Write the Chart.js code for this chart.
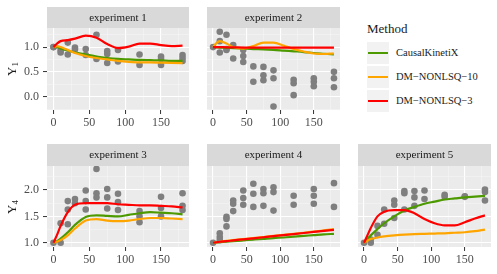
<!DOCTYPE html>
<html>
<head>
<meta charset="utf-8">
<script src="https://cdn.jsdelivr.net/npm/chart.js@4/dist/chart.umd.min.js"></script>
<style>
    body { margin: 0; background: #fff; width: 497px; height: 274px; position: relative; overflow: hidden; font-family: "Liberation Serif", serif; }
    canvas { position: absolute; }
    .ytitle { position: absolute; width: 24px; height: 20px; line-height: 20px; text-align: center; font-size: 13px; color: #1a1a1a; transform: rotate(-90deg); }
    .ytitle sub { font-size: 9px; vertical-align: -2px; }
    #legendTitle { position: absolute; left: 367px; top: 21px; font-size: 13px; color: #1a1a1a; }
    .legend-key { position: absolute; left: 367px; width: 22px; height: 22px; background: #f2f2f2; }
    .legend-line { position: absolute; left: 1px; top: 10px; width: 20px; height: 2.2px; }
    .legend-label { position: absolute; left: 396px; font-size: 10.5px; line-height: 14px; color: #1a1a1a; white-space: nowrap; }
</style>
</head>
<body>
<canvas id="c1"></canvas>
<canvas id="c2"></canvas>
<canvas id="c3"></canvas>
<canvas id="c4"></canvas>
<canvas id="c5"></canvas>
<div class="ytitle" style="left:0px; top:59px;">Y<sub>1</sub></div>
<div class="ytitle" style="left:0px; top:197px;">Y<sub>4</sub></div>
<div id="legendTitle">Method</div>
<div id="legend"></div>
<script>
// measurement times and fitted-curve times
const obsTimes = [0, 10, 20, 30, 45, 60, 75, 90, 120, 150, 180];
const curveTimes = [0, 5, 10, 20, 30, 45, 60, 75, 90, 105, 120, 135, 150, 165, 180];

const methodNames = ['CausalKinetiX', 'DM\u2212NONLSQ\u221210', 'DM\u2212NONLSQ\u22123'];
const methodColors = ['#4c9900', '#ffa500', '#ff0000'];

const xTickLabels = [0, 50, 100, 150];
const xMinorTicks = [25, 75, 125, 175];
const y1TickLabels = [0.0, 0.5, 1.0];
const y1MinorTicks = [-0.25, 0.25, 0.75, 1.25];
const y4TickLabels = [1.0, 1.5, 2.0];
const y4MinorTicks = [1.25, 1.75, 2.25];

// observed replicates, one list per time point
const exp1Obs = [[1.0, 1.0], [0.94, 0.89], [1.09, 0.85], [0.99, 0.95], [0.96, 0.84], [1.25, 0.76], [0.92, 0.86, 0.68], [0.94, 0.71], [0.85, 0.64], [0.81, 0.76, 0.64], [0.84, 0.78, 0.72]];
const exp2Obs = [[1.0], [1.31, 1.12, 0.89], [1.25, 0.96, 0.94], [1.04, 0.77], [0.94, 0.82, 0.70], [0.61, 0.30], [0.60, 0.43, 0.33], [0.53, 0.37, -0.20], [0.34, 0.27, 0.03], [0.37, 0.30, 0.21], [0.50, 0.37, 0.19]];
const exp3Obs = [[1.0], [1.37, 1.0], [1.79, 1.63, 1.35], [1.83, 1.75], [1.99, 1.79, 1.63], [2.40, 1.94, 1.86], [2.02, 1.86, 1.65], [1.93, 1.77, 1.62], [1.60, 1.50, 1.39], [1.87, 1.66, 1.50], [1.94, 1.70, 1.62]];
const exp4Obs = [[1.0], [1.18, 1.11, 1.05], [1.49, 1.45, 1.31], [1.80, 1.74, 1.60], [1.99, 1.85, 1.72], [2.12, 1.93, 1.68], [2.02, 1.94, 1.70], [2.05, 1.96, 1.61], [1.89, 1.72], [2.02, 1.89, 1.74], [2.13, 1.68]];
const exp5Obs = [[1.0], [1.06, 1.0], [1.32, 1.15], [1.63, 1.36], [1.80, 1.72, 1.47], [1.98, 1.94, 1.63], [1.98, 1.86, 1.70], [1.99, 1.83], [1.91, 1.87], [1.88, 1.87], [2.01, 1.96, 1.80]];

// fitted curves (values at curveTimes)
const exp1Causal = [1.00, 1.00, 0.97, 0.93, 0.89, 0.85, 0.81, 0.78, 0.76, 0.75, 0.74, 0.735, 0.73, 0.72, 0.72];
const exp1Dm10 = [1.00, 1.02, 1.00, 0.94, 0.88, 0.82, 0.78, 0.75, 0.72, 0.70, 0.69, 0.69, 0.685, 0.68, 0.675];
const exp1Dm3 = [1.00, 1.07, 1.12, 1.14, 1.17, 1.23, 1.19, 1.06, 0.98, 1.01, 1.07, 1.07, 1.04, 1.02, 1.03];

const exp2Causal = [1.00, 0.995, 0.99, 0.985, 0.98, 0.97, 0.96, 0.955, 0.945, 0.93, 0.915, 0.90, 0.88, 0.865, 0.85];
const exp2Dm10 = [1.00, 1.08, 1.12, 1.07, 1.00, 0.97, 1.02, 1.09, 1.09, 1.03, 0.96, 0.91, 0.87, 0.86, 0.87];
const exp2Dm3 = [1.00, 1.00, 1.00, 0.995, 0.995, 0.99, 0.99, 0.99, 0.99, 0.99, 0.99, 0.99, 0.99, 0.99, 0.99];

const exp3Causal = [1.00, 1.03, 1.08, 1.20, 1.34, 1.49, 1.52, 1.51, 1.50, 1.53, 1.56, 1.58, 1.57, 1.56, 1.54];
const exp3Dm10 = [1.00, 1.02, 1.05, 1.14, 1.27, 1.42, 1.45, 1.42, 1.41, 1.42, 1.45, 1.47, 1.47, 1.46, 1.45];
const exp3Dm3 = [1.00, 1.15, 1.32, 1.58, 1.72, 1.75, 1.75, 1.75, 1.73, 1.72, 1.71, 1.71, 1.70, 1.69, 1.67];

const exp4Causal = [1.00, 1.005, 1.01, 1.02, 1.03, 1.045, 1.06, 1.075, 1.09, 1.10, 1.115, 1.13, 1.145, 1.16, 1.17];
const exp4Dm10 = [1.00, 1.01, 1.02, 1.035, 1.05, 1.07, 1.09, 1.11, 1.13, 1.15, 1.17, 1.19, 1.21, 1.235, 1.26];
const exp4Dm3 = [1.00, 1.01, 1.02, 1.03, 1.045, 1.065, 1.085, 1.105, 1.125, 1.145, 1.165, 1.185, 1.205, 1.225, 1.245];

const exp5Causal = [1.00, 1.07, 1.14, 1.26, 1.37, 1.50, 1.61, 1.68, 1.74, 1.78, 1.82, 1.84, 1.86, 1.875, 1.89];
const exp5Dm10 = [1.00, 1.04, 1.07, 1.10, 1.12, 1.14, 1.155, 1.165, 1.17, 1.175, 1.18, 1.19, 1.20, 1.22, 1.25];
const exp5Dm3 = [1.00, 1.14, 1.28, 1.50, 1.59, 1.62, 1.62, 1.56, 1.45, 1.37, 1.33, 1.33, 1.39, 1.46, 1.52];

// panel layout (chart area in page pixels)
const panels = [
    { id: 'c1', title: 'experiment 1', obs: exp1Obs, fits: [exp1Causal, exp1Dm10, exp1Dm3], left: 47, right: 189, stripTop: 7, top: 28, bottom: 110, yMin: -0.27, yMax: 1.385, yMajor: y1TickLabels, yMinor: y1MinorTicks, showY: true },
    { id: 'c2', title: 'experiment 2', obs: exp2Obs, fits: [exp2Causal, exp2Dm10, exp2Dm3], left: 207, right: 340, stripTop: 7, top: 28, bottom: 110, yMin: -0.27, yMax: 1.385, yMajor: y1TickLabels, yMinor: y1MinorTicks, showY: false },
    { id: 'c3', title: 'experiment 3', obs: exp3Obs, fits: [exp3Causal, exp3Dm10, exp3Dm3], left: 47, right: 189, stripTop: 144, top: 166, bottom: 247, yMin: 0.92, yMax: 2.455, yMajor: y4TickLabels, yMinor: y4MinorTicks, showY: true },
    { id: 'c4', title: 'experiment 4', obs: exp4Obs, fits: [exp4Causal, exp4Dm10, exp4Dm3], left: 207, right: 340, stripTop: 144, top: 166, bottom: 247, yMin: 0.92, yMax: 2.455, yMajor: y4TickLabels, yMinor: y4MinorTicks, showY: false },
    { id: 'c5', title: 'experiment 5', obs: exp5Obs, fits: [exp5Causal, exp5Dm10, exp5Dm3], left: 358, right: 491, stripTop: 144, top: 166, bottom: 247, yMin: 0.92, yMax: 2.455, yMajor: y4TickLabels, yMinor: y4MinorTicks, showY: false }
];

const tickFont = { family: 'Liberation Serif', size: 12 };

// grey panel + facet strip
const panelBackground = {
    id: 'panelBackground',
    beforeDraw(chart, args, opts) {
        const { ctx, chartArea: a } = chart;
        ctx.save();
        ctx.fillStyle = '#ebebeb';
        ctx.fillRect(a.left, a.top, a.right - a.left, a.bottom - a.top);
        ctx.fillStyle = '#d9d9d9';
        ctx.fillRect(a.left, a.top - opts.stripHeight, a.right - a.left, opts.stripHeight);
        ctx.fillStyle = '#1a1a1a';
        ctx.font = '11px "Liberation Serif"';
        ctx.textAlign = 'center';
        ctx.textBaseline = 'middle';
        ctx.fillText(opts.title, (a.left + a.right) / 2, a.top - opts.stripHeight / 2 + 0.5);
        ctx.restore();
    }
};

function gridFor(majors, drawTicks) {
    const isMajor = v => majors.some(m => Math.abs(m - v) < 1e-9);
    return {
        color: ctx => isMajor(ctx.tick.value) ? '#ffffff' : '#f6f6f6',
        lineWidth: ctx => isMajor(ctx.tick.value) ? 1.1 : 0.55,
        tickColor: ctx => isMajor(ctx.tick.value) ? '#333333' : 'rgba(0,0,0,0)',
        tickWidth: 1,
        tickLength: 4,
        drawTicks: drawTicks
    };
}

function makePanel(p) {
    const yAxisWidth = p.showY ? 47 : 0;
    const padLeft = p.showY ? 0 : 5;
    const canvasLeft = p.left - yAxisWidth - padLeft;
    const canvasTop = p.stripTop - 2;
    const canvas = document.getElementById(p.id);
    canvas.width = p.right + 5 - canvasLeft;
    canvas.height = p.bottom + 24 - canvasTop;
    canvas.style.left = canvasLeft + 'px';
    canvas.style.top = canvasTop + 'px';

    const datasets = p.fits.map((vals, i) => ({
        label: methodNames[i],
        data: curveTimes.map((t, j) => ({ x: t, y: vals[j] })),
        showLine: true,
        borderColor: methodColors[i],
        borderWidth: 2.2,
        pointRadius: 0,
        cubicInterpolationMode: 'monotone',
        order: 3 - i
    }));
    const points = [];
    p.obs.forEach((reps, i) => reps.forEach(v => points.push({ x: obsTimes[i], y: v })));
    datasets.push({
        label: 'observed',
        data: points,
        pointRadius: 3.3,
        pointBackgroundColor: '#7f7f7f',
        pointBorderWidth: 0,
        order: 4
    });

    new Chart(canvas, {
        type: 'scatter',
        data: { datasets: datasets },
        options: {
            responsive: false,
            animation: false,
            layout: { padding: { left: padLeft, right: 5, top: p.top - canvasTop, bottom: 2 } },
            plugins: {
                legend: { display: false },
                tooltip: { enabled: false },
                panelBackground: { title: p.title, stripHeight: p.top - p.stripTop }
            },
            scales: {
                x: {
                    min: -9, max: 189,
                    afterBuildTicks: s => { s.ticks = xTickLabels.concat(xMinorTicks).map(v => ({ value: v })); },
                    afterFit: s => { s.height = 22; },
                    ticks: {
                        font: tickFont, color: '#4d4d4d', padding: 2, maxRotation: 0, autoSkip: false,
                        callback: v => xTickLabels.includes(v) ? String(v) : ''
                    },
                    grid: gridFor(xTickLabels, true),
                    border: { display: false }
                },
                y: {
                    min: p.yMin, max: p.yMax,
                    afterBuildTicks: s => { s.ticks = p.yMajor.concat(p.yMinor).map(v => ({ value: v })); },
                    afterFit: s => { s.width = yAxisWidth; },
                    ticks: {
                        display: p.showY, font: tickFont, color: '#4d4d4d', padding: 4, autoSkip: false,
                        callback: v => p.yMajor.some(m => Math.abs(m - v) < 1e-9) ? v.toFixed(1) : ''
                    },
                    grid: gridFor(p.yMajor, p.showY),
                    border: { display: false }
                }
            }
        },
        plugins: [panelBackground]
    });
}

function buildLegend() {
    const legend = document.getElementById('legend');
    methodNames.forEach((name, i) => {
        const key = document.createElement('div');
        key.className = 'legend-key';
        key.style.top = (42 + i * 24) + 'px';
        const line = document.createElement('div');
        line.className = 'legend-line';
        line.style.background = methodColors[i];
        key.appendChild(line);
        const label = document.createElement('div');
        label.className = 'legend-label';
        label.style.top = (46 + i * 24) + 'px';
        label.textContent = name;
        legend.appendChild(key);
        legend.appendChild(label);
    });
}

panels.forEach(makePanel);
buildLegend();
</script>
</body>
</html>
